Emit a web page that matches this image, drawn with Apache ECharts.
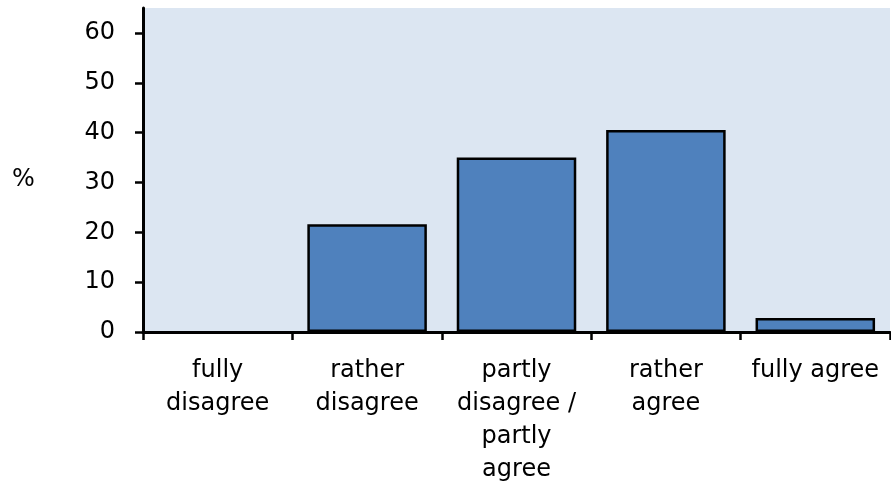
<!DOCTYPE html>
<html><head><meta charset="utf-8">
<script src="https://cdn.jsdelivr.net/npm/echarts@6/dist/echarts.min.js"></script>
<style>html,body{margin:0;padding:0;background:#fff}#c{width:891px;height:491px}</style>
</head><body><div id="c"></div>
<script>
const categories = ['fully\ndisagree', 'rather\ndisagree', 'partly\ndisagree /\npartly\nagree', 'rather\nagree', 'fully agree'];
const values = [0, 21.6, 35.0, 40.5, 2.8];
const yTicks = [0, 10, 20, 30, 40, 50, 60];

const chart = echarts.init(document.getElementById('c'));
const font = '"DejaVu Sans", sans-serif';
chart.setOption({
  animation: false,
  backgroundColor: '#fff',
  textStyle: {fontFamily: font},
  grid: {left: 143, right: 1, top: 8, bottom: 159, show: true, backgroundColor: '#DCE6F2', borderWidth: 0},
  graphic: [{type: 'text', left: 12, top: 168, style: {text: '%', fontSize: 24, fontFamily: font, fill: '#000'}}],
  xAxis: {
    type: 'category', data: categories,
    axisLine: {lineStyle: {color: '#000', width: 3}},
    axisTick: {show: true, alignWithLabel: false, length: 8, lineStyle: {color: '#000', width: 2.5}},
    axisLabel: {color: '#000', fontSize: 24, fontFamily: font, lineHeight: 33, margin: 22, interval: 0}
  },
  yAxis: {
    type: 'value', min: 0, max: 65, interval: 10,
    axisLine: {show: true, lineStyle: {color: '#000', width: 3}},
    axisTick: {show: true, length: 8, lineStyle: {color: '#000', width: 2.5}},
    splitLine: {show: false},
    axisLabel: {color: '#000', fontSize: 24, fontFamily: font, margin: 28, showMaxLabel: false,
      formatter: v => yTicks.includes(v) ? String(v) : ''}
  },
  series: [{
    type: 'bar', barCategoryGap: '20%',
    data: values.map(v => ({value: v, itemStyle: {borderWidth: v === 0 ? 0 : 2.5}})),
    itemStyle: {color: '#4F81BD', borderColor: '#000', borderWidth: 2.5}
  }]
});
</script></body></html>
